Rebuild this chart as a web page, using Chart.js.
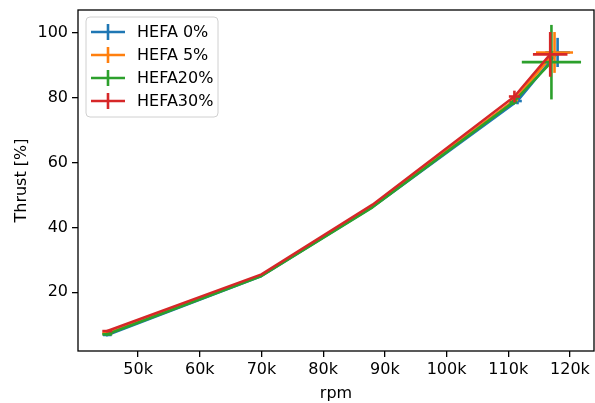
<!DOCTYPE html>
<html>
<head>
<meta charset="utf-8">
<script src="https://cdn.jsdelivr.net/npm/chart.js@4/dist/chart.umd.min.js"></script>
<style>
  html, body { margin: 0; padding: 0; background: #fff; }
  #wrap { width: 595px; height: 403px; }
</style>
</head>
<body>
<div id="wrap"><canvas id="thrust-chart" width="595" height="403"></canvas></div>
<script>
// ==============================
// DATA
// ==============================
const seriesLabels = ['HEFA 0%', 'HEFA 5%', 'HEFA20%', 'HEFA30%'];
const seriesColors = ['#1f77b4', '#ff7f0e', '#2ca02c', '#d62728'];

const rpmHefa0  = [45000, 70000, 88000, 111500, 118000];
const rpmHefa5  = [45000, 70000, 88000, 111000, 117500];
const rpmHefa20 = [45000, 70000, 88000, 110800, 117000];
const rpmHefa30 = [45000, 70000, 88000, 111000, 116800];

const thrustHefa0  = [6.8, 25.0, 46.3, 79.0, 94.0];
const thrustHefa5  = [7.3, 25.2, 46.6, 79.3, 94.0];
const thrustHefa20 = [7.0, 25.0, 46.2, 78.6, 91.0];
const thrustHefa30 = [8.0, 25.5, 47.0, 80.4, 93.4];

const rpmErrHefa0  = [700, 0, 0, 700, 2000];
const rpmErrHefa5  = [800, 0, 0, 600, 3000];
const rpmErrHefa20 = [800, 0, 0, 600, 4800];
const rpmErrHefa30 = [800, 0, 0, 900, 2800];

const thrustErrHefa0  = [0.3, 0, 0, 1.0, 4.5];
const thrustErrHefa5  = [0.3, 0, 0, 0.8, 6.3];
const thrustErrHefa20 = [0.3, 0, 0, 0.8, 11.5];
const thrustErrHefa30 = [0.3, 0, 0, 1.8, 6.9];

const xTicks = [50000, 60000, 70000, 80000, 90000, 100000, 110000, 120000];
const yTicks = [20, 40, 60, 80, 100];

const FONT = 'DejaVu Sans';
const FONT_SIZE = 16;

function points(xs, ys) {
    return xs.map((x, i) => ({ x: x, y: ys[i] }));
}

// ==============================
// PLUGINS
// ==============================
const errorBars = {
    id: 'errorBars',
    afterDatasetDraw(chart, args) {
        const ds = chart.data.datasets[args.index];
        const xs = chart.scales.x, ys = chart.scales.y;
        const area = chart.chartArea;
        const ctx = chart.ctx;
        ctx.save();
        ctx.beginPath();
        ctx.rect(area.left, area.top, area.right - area.left, area.bottom - area.top);
        ctx.clip();
        ctx.strokeStyle = ds.borderColor;
        ctx.lineWidth = 2.6;
        ctx.lineCap = 'butt';
        ds.data.forEach((p, i) => {
            const px = xs.getPixelForValue(p.x);
            const py = ys.getPixelForValue(p.y);
            const xe = ds.xErr[i], ye = ds.yErr[i];
            if (xe) {
                ctx.beginPath();
                ctx.moveTo(xs.getPixelForValue(p.x - xe), py);
                ctx.lineTo(xs.getPixelForValue(p.x + xe), py);
                ctx.stroke();
            }
            if (ye) {
                ctx.beginPath();
                ctx.moveTo(px, ys.getPixelForValue(p.y - ye));
                ctx.lineTo(px, ys.getPixelForValue(p.y + ye));
                ctx.stroke();
            }
        });
        ctx.restore();
    }
};

const frameAndLegend = {
    id: 'frameAndLegend',
    afterDraw(chart) {
        const ctx = chart.ctx;
        const a = chart.chartArea;
        ctx.save();
        // spines
        ctx.strokeStyle = '#000';
        ctx.lineWidth = 1.3;
        ctx.strokeRect(a.left, a.top, a.right - a.left, a.bottom - a.top);

        // legend box
        const bx = 86, by = 17, bw = 132, bh = 100, r = 4;
        ctx.beginPath();
        ctx.moveTo(bx + r, by);
        ctx.arcTo(bx + bw, by, bx + bw, by + bh, r);
        ctx.arcTo(bx + bw, by + bh, bx, by + bh, r);
        ctx.arcTo(bx, by + bh, bx, by, r);
        ctx.arcTo(bx, by, bx + bw, by, r);
        ctx.closePath();
        ctx.fillStyle = 'rgba(255,255,255,0.8)';
        ctx.fill();
        ctx.strokeStyle = '#d0d0d0';
        ctx.lineWidth = 1;
        ctx.stroke();

        ctx.font = FONT_SIZE + 'px "' + FONT + '"';
        ctx.textBaseline = 'middle';
        ctx.textAlign = 'left';
        chart.data.datasets.forEach((ds, i) => {
            const ly = 32 + i * 23;
            ctx.strokeStyle = ds.borderColor;
            ctx.lineWidth = 2.6;
            ctx.beginPath();
            ctx.moveTo(91, ly);
            ctx.lineTo(125, ly);
            ctx.moveTo(108, ly - 8);
            ctx.lineTo(108, ly + 8);
            ctx.stroke();
            ctx.fillStyle = '#000';
            ctx.fillText(ds.label, 137, ly + 1);
        });
        ctx.restore();
    }
};

// ==============================
// CHART
// ==============================
const rpmSets = [rpmHefa0, rpmHefa5, rpmHefa20, rpmHefa30];
const thrustSets = [thrustHefa0, thrustHefa5, thrustHefa20, thrustHefa30];
const rpmErrSets = [rpmErrHefa0, rpmErrHefa5, rpmErrHefa20, rpmErrHefa30];
const thrustErrSets = [thrustErrHefa0, thrustErrHefa5, thrustErrHefa20, thrustErrHefa30];

const datasets = seriesLabels.map((label, i) => ({
    label: label,
    data: points(rpmSets[i], thrustSets[i]),
    xErr: rpmErrSets[i],
    yErr: thrustErrSets[i],
    borderColor: seriesColors[i],
    backgroundColor: seriesColors[i],
    borderWidth: 2.6,
    borderJoinStyle: 'round',
    borderCapStyle: 'square',
    showLine: true,
    pointRadius: 0,
    tension: 0,
    order: seriesLabels.length - i
}));

new Chart(document.getElementById('thrust-chart'), {
    type: 'scatter',
    data: { datasets: datasets },
    options: {
        responsive: false,
        animation: false,
        layout: { padding: { top: 10, right: 1, left: 0, bottom: 0 } },
        plugins: {
            legend: { display: false },
            tooltip: { enabled: false }
        },
        scales: {
            x: {
                type: 'linear',
                min: 40260,
                max: 123900,
                afterBuildTicks: scale => { scale.ticks = xTicks.map(v => ({ value: v })); },
                afterFit: scale => {
                    scale.height = 52;
                    scale.paddingLeft = 0;
                    scale.paddingRight = 0;
                },
                ticks: {
                    callback: v => (v / 1000) + 'k',
                    font: { family: FONT, size: FONT_SIZE },
                    color: '#000',
                    padding: 3,
                    maxRotation: 0,
                    autoSkip: false
                },
                grid: { drawOnChartArea: false, tickLength: 6, color: '#000', lineWidth: 1.3 },
                border: { display: false },
                title: {
                    display: true,
                    text: 'rpm',
                    font: { family: FONT, size: FONT_SIZE },
                    color: '#000',
                    padding: { top: 0, bottom: 0 }
                }
            },
            y: {
                type: 'linear',
                min: 1.85,
                max: 107.1,
                afterBuildTicks: scale => { scale.ticks = yTicks.map(v => ({ value: v })); },
                afterFit: scale => {
                    scale.width = 78;
                    scale.paddingTop = 0;
                    scale.paddingBottom = 0;
                },
                ticks: {
                    font: { family: FONT, size: FONT_SIZE },
                    color: '#000',
                    padding: 4,
                    autoSkip: false
                },
                grid: { drawOnChartArea: false, tickLength: 6, color: '#000', lineWidth: 1.3 },
                border: { display: false },
                title: {
                    display: true,
                    text: 'Thrust [%]',
                    font: { family: FONT, size: FONT_SIZE },
                    color: '#000',
                    padding: { top: 12, bottom: 0 }
                }
            }
        }
    },
    plugins: [errorBars, frameAndLegend]
});
</script>
</body>
</html>
